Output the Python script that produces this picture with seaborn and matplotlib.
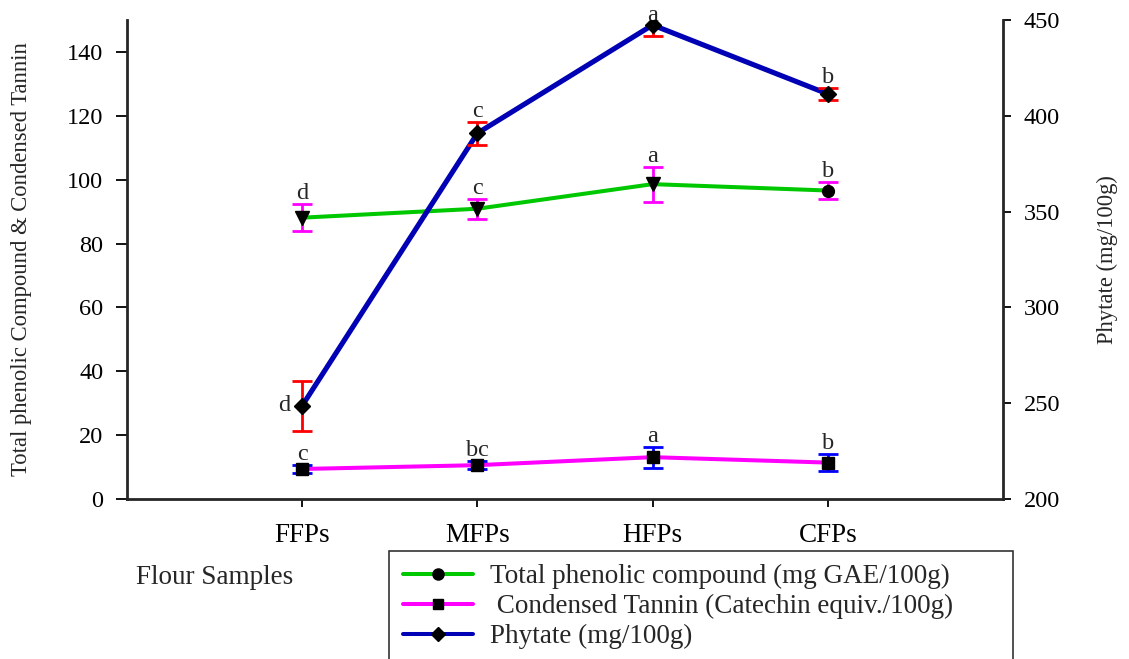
import numpy as np
import pandas as pd
import matplotlib
matplotlib.use("Agg")
import matplotlib.pyplot as plt
import seaborn as sns
from matplotlib.lines import Line2D
from matplotlib.patches import Rectangle

# ---- data -------------------------------------------------------------
samples = ["FFPs", "MFPs", "HFPs", "CFPs"]

phenolic = [88.1, 90.9, 98.6, 96.6]          # mg GAE/100g
phenolic_err = [4.2, 3.1, 5.5, 2.7]
phenolic_sig = ["d", "c", "a", "b"]

tannin = [9.4, 10.6, 13.1, 11.4]             # catechin equiv./100g
tannin_err = [1.3, 1.3, 3.3, 2.7]
tannin_sig = ["c", "bc", "a", "b"]

phytate = [248.7, 390.9, 447.4, 411.4]       # mg/100g
phytate_err = [13.0, 6.0, 6.0, 3.2]
phytate_sig = ["d", "c", "a", "b"]

legend_labels = ["Total phenolic compound (mg GAE/100g)",
                 " Condensed Tannin (Catechin equiv./100g)",
                 "Phytate (mg/100g)"]

# ---- style ------------------------------------------------------------
sns.set_style("ticks")
plt.rcParams["font.family"] = ["Liberation Serif", "DejaVu Serif"]
plt.rcParams["axes.linewidth"] = 2.0

GREEN = "#00C800"
MAGENTA = "#FF00FF"
BLUE = "#0000B4"
ERR_BLUE = "#0000FF"
RED = "#FF0000"
FS = 17.5      # tick numbers, letters
FS_WIDE = 19.5 # category labels, axis title, legend

W, H = 1129, 659
fig = plt.figure(figsize=(W / 100, H / 100), dpi=100)
ax = fig.add_axes([127 / W, 1 - 499 / H, 876 / W, 479 / H])
ax2 = ax.twinx()

pos = np.arange(1, len(samples) + 1)
df = pd.DataFrame({
    "pos": pos, "sample": samples,
    "phenolic": phenolic, "phenolic_err": phenolic_err,
    "tannin": tannin, "tannin_err": tannin_err,
    "phytate": phytate, "phytate_err": phytate_err,
})

# connecting lines
sns.lineplot(data=df, x="pos", y="phenolic", ax=ax, color=GREEN, lw=2.9,
             legend=False, zorder=2)
sns.lineplot(data=df, x="pos", y="tannin", ax=ax, color=MAGENTA, lw=2.9,
             legend=False, zorder=2)
sns.lineplot(data=df, x="pos", y="phytate", ax=ax2, color=BLUE, lw=3.7,
             legend=False, zorder=2)

# error bars
ekw = dict(fmt="none", elinewidth=2.0, capsize=7, capthick=2.0, zorder=3)
ax.errorbar(df["pos"], df["phenolic"], yerr=df["phenolic_err"], ecolor=MAGENTA, **ekw)
ax.errorbar(df["pos"], df["tannin"], yerr=df["tannin_err"], ecolor=ERR_BLUE, **ekw)
ax2.errorbar(df["pos"], df["phytate"], yerr=df["phytate_err"], ecolor=RED, **ekw)

# point markers
phen_markers = ["v", "v", "v", "o"]
for x, y, m in zip(df["pos"], df["phenolic"], phen_markers):
    ax.plot(x, y, ls="none", marker=m, color="black", ms=10 if m == "v" else 8.5,
            zorder=4)
ax.plot(df["pos"], df["tannin"], ls="none", marker="s", color="black", ms=8.5,
        zorder=4)
ax2.plot(df["pos"], df["phytate"], ls="none", marker="D", color="black", ms=8.5,
         zorder=4)

# significance letters
for x, y, e, s in zip(df["pos"], df["phenolic"], df["phenolic_err"], phenolic_sig):
    ax.annotate(s, (x, y + e), xytext=(0, 3.5), textcoords="offset points",
                ha="center", va="baseline", fontsize=FS)
for x, y, e, s in zip(df["pos"], df["tannin"], df["tannin_err"], tannin_sig):
    ax.annotate(s, (x, y + e), xytext=(0, 3.5), textcoords="offset points",
                ha="center", va="baseline", fontsize=FS)
top2 = 450
for i, (x, y, e, s) in enumerate(zip(df["pos"], df["phytate"], df["phytate_err"],
                                     phytate_sig)):
    if i == 0:
        ax2.annotate(s, (x, y), xytext=(-8.5, 0), textcoords="offset points",
                     ha="right", va="center", fontsize=FS)
    elif y + e > top2:
        # letter rests on the marker when the bar runs past the axis top
        ax2.annotate(s, (x, top2), xytext=(0, -1), textcoords="offset points",
                     ha="center", va="baseline", fontsize=FS,
                     annotation_clip=False)
    else:
        ax2.annotate(s, (x, y + e), xytext=(0, 3.5),
                     textcoords="offset points", ha="center", va="baseline",
                     fontsize=FS)

# axes
ax.set_xlim(0, 5)
ax.set_ylim(0, 150)
ax2.set_ylim(200, top2)
ax.set_xticks(pos, samples)
ax.set_yticks(np.arange(0, 141, 20))
ax2.set_yticks(np.arange(200, 451, 50))

for sp in ["top", "right"]:
    ax.spines[sp].set_visible(False)
for sp in ["top", "left", "bottom"]:
    ax2.spines[sp].set_visible(False)
ax2.spines["right"].set_linewidth(2.0)

ax.tick_params(axis="y", length=8, width=1.3, pad=9, labelsize=FS, colors="black")
ax.tick_params(axis="x", length=6, width=1.3, pad=11, labelsize=FS_WIDE, colors="black")
ax2.tick_params(axis="y", length=6, width=1.3, pad=9, labelsize=FS, colors="black")

ax.set_ylabel("Total phenolic Compound & Condensed Tannin", fontsize=16.3,
              va="center")
ax.yaxis.set_label_coords(-0.12, 0.5)
ax2.set_ylabel("Phytate (mg/100g)", fontsize=16.3, va="center")
ax2.yaxis.set_label_coords(1.119, 0.5)

ax.set_xlabel("Flour Samples", fontsize=FS_WIDE, ha="left", va="center")
ax.xaxis.set_label_coords((136 - 127) / 876, (499 - 577) / 479)

# legend below the plot, in an open-bottomed frame
handles = [
    Line2D([], [], color=GREEN, lw=2.9, marker="o", ms=8, mfc="black", mec="black"),
    Line2D([], [], color=MAGENTA, lw=2.9, marker="s", ms=7, mfc="black", mec="black"),
    Line2D([], [], color=BLUE, lw=2.9, marker="D", ms=7, mfc="black", mec="black"),
]
fig.add_artist(Rectangle((389 / W, -0.05), (1013 - 389) / W, 0.05 + 1 - 551 / H,
                         transform=fig.transFigure, fill=False, lw=1.2,
                         edgecolor="#333333"))
fig.legend(handles, legend_labels, loc="upper left",
           bbox_to_anchor=(403 / W, 1 - 564 / H), frameon=False,
           borderpad=0, borderaxespad=0, fontsize=FS_WIDE, handlelength=2.6,
           handletextpad=0.6, labelspacing=0.18)

fig.savefig("out.png", dpi=100)
